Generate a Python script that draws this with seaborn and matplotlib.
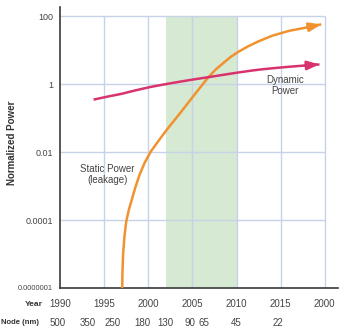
import numpy as np
import pandas as pd
import matplotlib
matplotlib.use("Agg")
import matplotlib.pyplot as plt
import matplotlib.transforms as mtransforms
from matplotlib.ticker import NullLocator
import seaborn as sns

# ---- data ----
static_years = [1997.05, 1997.08, 1997.15, 1997.3, 1997.5, 1997.8, 1998.1, 1998.5, 1999.0,
                1999.6, 2000.3, 2001.3, 2002.3, 2003.7, 2005.1, 2006.0, 2006.8, 2007.6,
                2008.5, 2009.3, 2010.2, 2011.3, 2012.5, 2014.1, 2016.0, 2018.0, 2019.6]
static_power = [0.000001, 0.0000032, 0.00001, 0.000032, 0.000089, 0.0002, 0.00037, 0.00085, 0.0021,
                0.0049, 0.0105, 0.024, 0.053, 0.15, 0.44, 0.87, 1.58, 2.63,
                4.17, 6.2, 8.9, 12.9, 18.2, 26.9, 37.2, 46.8, 57.5]

dynamic_years = [1993.8, 1995.4, 1997.0, 1998.6, 2000.2, 2001.8, 2003.5, 2005.1, 2006.8,
                 2008.5, 2010.2, 2011.6, 2013.0, 2014.5, 2016.0, 2017.7, 2019.4]
dynamic_power = [0.35, 0.43, 0.52, 0.66, 0.82, 0.98, 1.17, 1.37, 1.6,
                 1.88, 2.2, 2.48, 2.75, 3.0, 3.25, 3.52, 3.8]

year_ticks = [1990, 1995, 2000, 2005, 2010, 2015, 2020]
year_labels = ["1990", "1995", "2000", "2005", "2010", "2015", "2000"]

power_ticks = [100, 1, 0.01, 0.0001, 0.000001]
power_labels = ["100", "1", "0.01", "0.0001", "0.0000001"]

node_labels = ["500", "350", "250", "180", "130", "90", "65", "45", "22"]
node_years = [1989.7, 1993.2, 1996.0, 1999.3, 2001.9, 2004.7, 2006.3, 2010.0, 2014.7]

band_years = [2002, 2010]

# ---- style ----
sns.set_theme(style="white")
plt.rcParams["font.family"] = ["Liberation Sans", "DejaVu Sans"]

ORANGE = "#f0922f"
PINK = "#d8336e"
GRID = "#c6d2e6"
GREEN = "#d6e9d2"
TXT = "#444444"

W, H = 340, 330
fig = plt.figure(figsize=(W / 100, H / 100), dpi=100)
ax = fig.add_axes([60 / W, 42 / H, 278 / W, 281 / H])
ax.set_yscale("log")
ax.set_xlim(1990, 2021.5)
ax.set_ylim(1e-6, 10 ** 2.27)

# shaded band and grid
ax.fill_between(band_years, 1e-6, 100, color=GREEN, lw=0, zorder=0)
ax.hlines(power_ticks[:-1], year_ticks[0], year_ticks[-1], color=GRID, lw=1.0, zorder=1)
ax.vlines(year_ticks[1:], 1e-6, 100, color=GRID, lw=1.0, zorder=1)

# curves
df_s = pd.DataFrame({"year": static_years, "power": static_power})
df_d = pd.DataFrame({"year": dynamic_years, "power": dynamic_power})
sns.lineplot(data=df_s, x="year", y="power", ax=ax, color=ORANGE, lw=1.8, zorder=3,
             estimator=None, sort=False)
sns.lineplot(data=df_d, x="year", y="power", ax=ax, color=PINK, lw=1.8, zorder=4,
             estimator=None, sort=False)
for line in ax.lines:
    line.set_solid_joinstyle("round")
    line.set_solid_capstyle("butt")
for yrs, vals, col in [(static_years, static_power, ORANGE), (dynamic_years, dynamic_power, PINK)]:
    ax.annotate("", xy=(yrs[-1], vals[-1]), xytext=(yrs[-2], vals[-2]),
                arrowprops=dict(arrowstyle="-|>,head_length=0.6,head_width=0.22",
                                mutation_scale=12, color=col, lw=1.8,
                                shrinkA=0, shrinkB=0),
                zorder=5)

# annotations
ax.text(1995.4, 10 ** -2.67, "Static Power\n(leakage)", ha="center", va="center",
        fontsize=7, color=TXT, linespacing=1.15)
ax.text(2015.5, 10 ** -0.04, "Dynamic\nPower", ha="center", va="center",
        fontsize=7, color=TXT, linespacing=1.15)

# axes styling
for s in ["top", "right"]:
    ax.spines[s].set_visible(False)
for s in ["left", "bottom"]:
    ax.spines[s].set_color("#3a3a3a")
    ax.spines[s].set_linewidth(1.2)
ax.grid(False)
ax.set_yticks(power_ticks)
ax.set_yticklabels(power_labels)
ax.yaxis.set_minor_locator(NullLocator())
ax.set_xticks(year_ticks)
ax.set_xticklabels(year_labels)
ax.tick_params(axis="y", length=0, pad=5, labelsize=6.5, labelcolor=TXT)
ax.tick_params(axis="x", length=0, pad=8, labelsize=7, labelcolor=TXT)
ax.get_yticklabels()[-1].set_fontsize(5.3)
ax.set_xlabel("")
ax.set_ylabel("")

fig.text(12 / W, 1 - 143 / H, "Normalized Power", rotation=90, ha="center", va="center",
         fontsize=7, fontweight="bold", color="#333333")
fig.text(43 / W, 1 - 305 / H, "Year", ha="right", va="center",
         fontsize=6, fontweight="bold", color="#333333")
fig.text(1 / W, 1 - 323 / H, "Node (nm)", ha="left", va="center",
         fontsize=5.5, fontweight="bold", color="#333333")

trans = mtransforms.blended_transform_factory(ax.transData, fig.transFigure)
for yr, lab in zip(node_years, node_labels):
    ax.text(yr, 1 - 323 / H, lab, transform=trans, ha="center", va="center",
            fontsize=7, color=TXT)

fig.savefig("out.png", dpi=100)
